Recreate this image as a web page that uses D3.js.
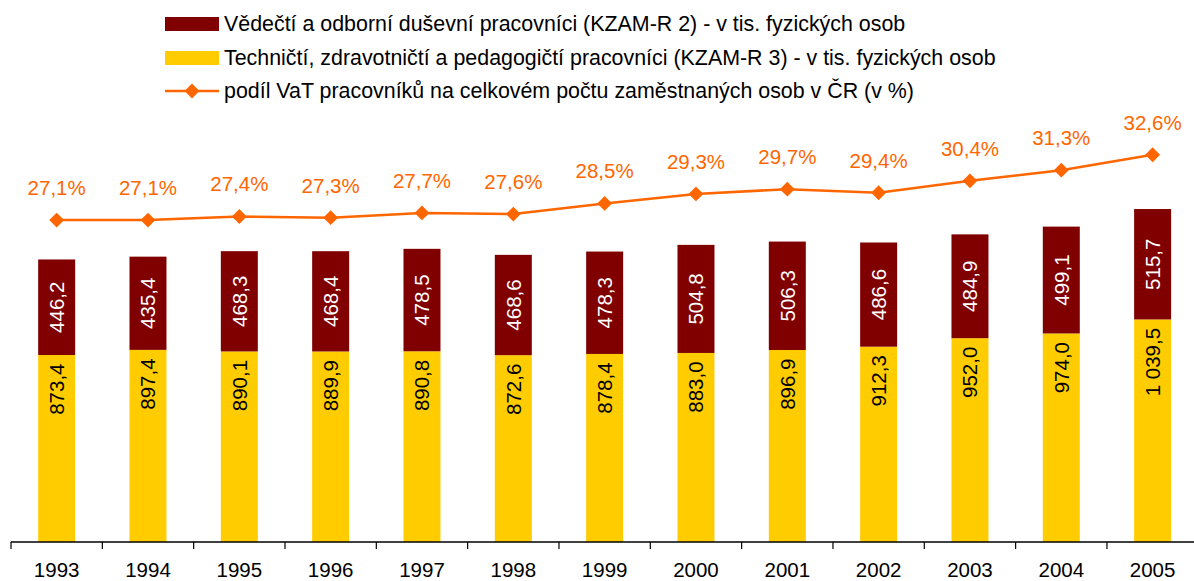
<!DOCTYPE html>
<html><head><meta charset="utf-8">
<script src="https://cdn.jsdelivr.net/npm/d3@7"></script>
<style>body{margin:0;background:#fff}svg{display:block;font-family:"Liberation Sans",Arial,sans-serif}</style>
</head><body><svg id="c" width="1194" height="581"></svg>
<script>
const years = ["1993","1994","1995","1996","1997","1998","1999","2000","2001","2002","2003","2004","2005"];
const scientists = [446.2,435.4,468.3,468.4,478.5,468.6,478.3,504.8,506.3,486.6,484.9,499.1,515.7];
const technicians = [873.4,897.4,890.1,889.9,890.8,872.6,878.4,883.0,896.9,912.3,952.0,974.0,1039.5];
const share = [27.1,27.1,27.4,27.3,27.7,27.6,28.5,29.3,29.7,29.4,30.4,31.3,32.6];
const legendLabels = [
  "Vědečtí a odborní duševní pracovníci (KZAM-R 2) - v tis. fyzických osob",
  "Techničtí, zdravotničtí a pedagogičtí pracovníci (KZAM-R 3) - v tis. fyzických osob",
  "podíl VaT pracovníků na celkovém počtu zaměstnaných osob v ČR (v %)"
];

const RED="#800000", YEL="#FFCC00", ORA="#FF6600";
const loc = d3.formatLocale({decimal:",", thousands:"\u00a0", grouping:[3], currency:["","Kč"]});
const f1 = loc.format(",.1f");

const svg = d3.select("#c");
const base = 542, step = 91.33, x0 = 11;
const x = d3.scaleBand().domain(years).range([x0, x0 + step*years.length]).padding(0);
const y = d3.scaleLinear().domain([0,1800]).range([base, base - 1800*0.2141]);
const y2 = d3.scaleLinear().domain([0,35]).range([base, base - 35*11.88]);
const bw = x.bandwidth()*0.405;
const cx = d => x(d) + x.bandwidth()/2;

const data = years.map((yr,i)=>({yr, s:scientists[i], t:technicians[i], p:share[i]}));

// bars
const g = svg.append("g");
g.selectAll(".t").data(data).join("rect")
  .attr("x", d=>cx(d.yr)-bw/2).attr("width", bw)
  .attr("y", d=>y(d.t)).attr("height", d=>y(0)-y(d.t)).attr("fill", YEL);
g.selectAll(".s").data(data).join("rect")
  .attr("x", d=>cx(d.yr)-bw/2).attr("width", bw)
  .attr("y", d=>y(d.t+d.s)).attr("height", d=>y(d.t)-y(d.t+d.s)).attr("fill", RED);

// bar labels
g.selectAll(".tl").data(data).join("text")
  .attr("transform", d=>`translate(${cx(d.yr)},${y(d.t)+8.5}) rotate(-90)`)
  .attr("text-anchor","end").attr("dominant-baseline","central")
  .attr("font-size",20.5).attr("fill","#000").text(d=>f1(d.t));
g.selectAll(".sl").data(data).join("text")
  .attr("transform", d=>`translate(${cx(d.yr)},${(y(d.t)+y(d.t+d.s))/2}) rotate(-90)`)
  .attr("text-anchor","middle").attr("dominant-baseline","central")
  .attr("font-size",20.5).attr("fill","#fff").text(d=>f1(d.s));

// axis
const ax = svg.append("g");
ax.append("line").attr("x1",x0).attr("x2",1194).attr("y1",base).attr("y2",base).attr("stroke","#000").attr("stroke-width",1.5);
ax.selectAll(".tk").data(years).join("line")
  .attr("x1",d=>x(d)).attr("x2",d=>x(d)).attr("y1",base).attr("y2",base+7).attr("stroke","#000").attr("stroke-width",1.2);
ax.selectAll(".yl").data(years).join("text")
  .attr("x",d=>cx(d)).attr("y",577).attr("text-anchor","middle").attr("font-size",20.5).attr("fill","#000").text(d=>d);

// line
const line = d3.line().x(d=>cx(d.yr)).y(d=>y2(d.p));
svg.append("path").datum(data).attr("d",line).attr("fill","none").attr("stroke",ORA).attr("stroke-width",2.5);
svg.selectAll(".pt").data(data).join("path")
  .attr("transform",d=>`translate(${cx(d.yr)},${y2(d.p)}) rotate(45)`)
  .attr("d", d3.symbol().type(d3.symbolSquare).size(110)).attr("fill",ORA);
svg.selectAll(".pl").data(data).join("text")
  .attr("x",d=>cx(d.yr)).attr("y",d=>y2(d.p)-25).attr("text-anchor","middle")
  .attr("font-size",20.5).attr("fill",ORA).text(d=>f1(d.p)+"%");

// legend
const lg = svg.append("g");
const ly = [24, 58, 91];
lg.append("rect").attr("x",165).attr("y",ly[0]-7).attr("width",54).attr("height",14).attr("fill",RED);
lg.append("rect").attr("x",165).attr("y",ly[1]-7).attr("width",54).attr("height",14).attr("fill",YEL);
lg.append("line").attr("x1",165).attr("x2",219).attr("y1",ly[2]).attr("y2",ly[2]).attr("stroke",ORA).attr("stroke-width",2.5);
lg.append("path").attr("transform",`translate(192,${ly[2]}) rotate(45)`).attr("d", d3.symbol().type(d3.symbolSquare).size(110)).attr("fill",ORA);
lg.selectAll(".lt").data(legendLabels).join("text")
  .attr("x",224).attr("y",(d,i)=>ly[i]).attr("dominant-baseline","central")
  .attr("font-size",21.4).attr("fill","#000").text(d=>d);
</script></body></html>
